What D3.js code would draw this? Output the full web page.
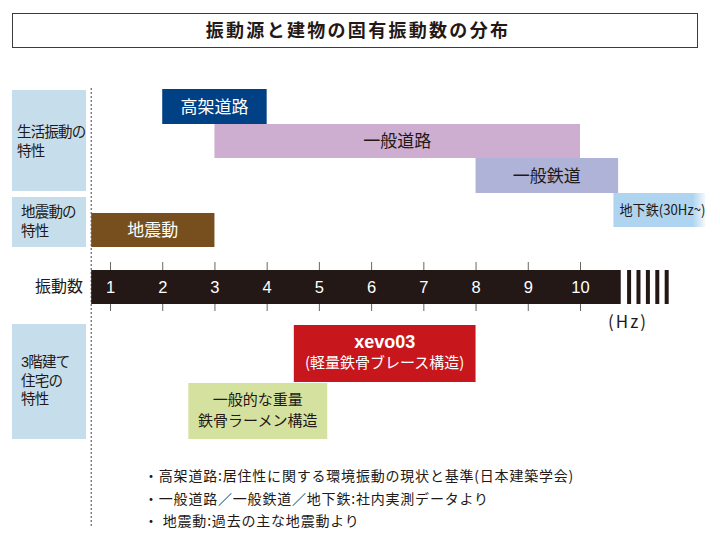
<!DOCTYPE html>
<html>
<head>
<meta charset="utf-8">
<script src="https://cdn.jsdelivr.net/npm/d3@7"></script>
<style>
  body { margin: 0; background: #fff; }
  text { font-family: "Noto Sans CJK JP", sans-serif; }
</style>
</head>
<body>
<div id="chart"></div>
<script>
// values, in Hz
const ticks = [1, 2, 3, 4, 5, 6, 7, 8, 9, 10];
const sourceNames = ['高架道路', '一般道路', '一般鉄道', '地下鉄(30Hz~)', '地震動'];
const sourceFrom = [2, 3, 8, 10.64, 0.64];
const sourceTo = [4, 10, 10.73, 12.4, 3];
const houseNames = [['xevo03', '(軽量鉄骨ブレース構造)'], ['一般的な重量', '鉄骨ラーメン構造']];
const houseFrom = [4.52, 2.5];
const houseTo = [8, 5.16];
const axisFrom = 0.64;
const axisTo = 10.78;
const breakMarks = [10.94, 11.12, 11.3, 11.48, 11.66];
const groupLabels = [['生活振動の', '特性'], ['地震動の', '特性'], ['3階建て', '住宅の', '特性']];
const notes = [
  '・高架道路:居住性に関する環境振動の現状と基準(日本建築学会)',
  '・一般道路／一般鉄道／地下鉄:社内実測データより',
  '・ 地震動:過去の主な地震動より'
];

const W = 720, H = 541;
const dark = '#231815';
const svg = d3.select('#chart').append('svg').attr('width', W).attr('height', H);

const x = d3.scaleLinear().domain([1, 10]).range([110, 580]);

// title
svg.append('rect').attr('x', 12.5).attr('y', 13.5).attr('width', 685).attr('height', 34)
  .attr('fill', 'none').attr('stroke', '#3e3a39').attr('stroke-width', 1);
svg.append('text').attr('x', 358).attr('y', 31).attr('dy', '0.36em')
  .attr('text-anchor', 'middle').attr('fill', dark)
  .style('font-size', '18px').style('font-weight', 700).style('letter-spacing', '2.3px')
  .text('振動源と建物の固有振動数の分布');

// left group boxes
const groupBox = [{ y: 90, h: 101, tx: 17, ty: 132 },
                  { y: 197, h: 50, tx: 21, ty: 212 },
                  { y: 324, h: 115, tx: 21, ty: 362 }];
groupBox.forEach((b, i) => {
  svg.append('rect').attr('x', 12).attr('y', b.y).attr('width', 74).attr('height', b.h).attr('fill', '#c6deeb');
  groupLabels[i].forEach((s, j) => {
    svg.append('text').attr('x', b.tx).attr('y', b.ty + j * 18.5).attr('dy', '0.36em').attr('fill', dark)
      .style('font-family', '"Liberation Sans", "Noto Sans CJK JP", sans-serif')
      .style('font-size', '14.5px').style('letter-spacing', '-0.8px').text(s);
  });
});

// dotted base line
svg.append('line').attr('x1', x(axisFrom)).attr('x2', x(axisFrom)).attr('y1', 88).attr('y2', 526)
  .attr('stroke', '#444').attr('stroke-width', 1).attr('stroke-dasharray', '2,2');

// fade for the subway bar
const grad = svg.append('defs').append('linearGradient').attr('id', 'fade');
grad.append('stop').attr('offset', '0.86').attr('stop-color', '#aed4f0');
grad.append('stop').attr('offset', '1').attr('stop-color', '#aed4f0').attr('stop-opacity', 0.15);

// vibration sources
const srcRow = [{ y: 89, h: 35 }, { y: 124, h: 34 }, { y: 158, h: 35 }, { y: 193, h: 34 }, { y: 213, h: 34 }];
const srcFill = ['#004085', '#cdaed0', '#b0b3d8', 'url(#fade)', '#774f1f'];
const srcText = ['#fff', dark, dark, dark, '#fff'];
sourceNames.forEach((name, i) => {
  const x0 = x(sourceFrom[i]), x1 = x(sourceTo[i]);
  svg.append('rect').attr('x', x0).attr('y', srcRow[i].y).attr('width', x1 - x0).attr('height', srcRow[i].h)
    .attr('fill', srcFill[i]);
  const cy = srcRow[i].y + srcRow[i].h / 2;
  if (i === 3) {
    svg.append('text').attr('x', x0 + 6).attr('y', cy).attr('dy', '0.36em').attr('fill', srcText[i])
      .attr('textLength', 86).attr('lengthAdjust', 'spacingAndGlyphs')
      .style('font-size', '14px').text(name);
  } else {
    svg.append('text').attr('x', (x0 + x1) / 2).attr('y', cy).attr('dy', '0.36em')
      .attr('text-anchor', 'middle').attr('fill', srcText[i])
      .style('font-size', '17px').text(name);
  }
});

// frequency axis
const barTop = 270, barBot = 304;
svg.append('rect').attr('x', x(axisFrom)).attr('y', barTop).attr('width', x(axisTo) - x(axisFrom))
  .attr('height', barBot - barTop).attr('fill', dark);
svg.selectAll('.brk').data(breakMarks).join('rect').attr('class', 'brk')
  .attr('x', d => x(d) - 2).attr('y', barTop).attr('width', 4).attr('height', barBot - barTop)
  .attr('fill', dark);

const tickTop = svg.append('g').attr('transform', `translate(0,${barTop})`)
  .call(d3.axisTop(x).tickValues(ticks).tickSize(8).tickFormat(''));
const tickBot = svg.append('g').attr('transform', `translate(0,${barBot})`)
  .call(d3.axisBottom(x).tickValues(ticks).tickSize(7).tickFormat(''));
[tickTop, tickBot].forEach(g => {
  g.select('.domain').remove();
  g.selectAll('line').attr('stroke', '#666');
});
const tickLab = svg.append('g').attr('transform', `translate(0,${(barTop + barBot) / 2})`)
  .call(d3.axisBottom(x).tickValues(ticks).tickSize(0).tickPadding(0));
tickLab.select('.domain').remove();
tickLab.selectAll('text').attr('y', 0).attr('dy', '0.36em').attr('fill', '#fff')
  .style('font-family', 'Liberation Sans, Arial, sans-serif').style('font-size', '16.5px');

svg.append('text').attr('x', 83).attr('y', 286).attr('dy', '0.36em').attr('text-anchor', 'end')
  .attr('fill', dark).style('font-size', '16px').text('振動数');
svg.append('text').attr('x', 628).attr('y', 322).attr('dy', '0.36em').attr('text-anchor', 'middle')
  .attr('fill', dark).style('font-size', '17px').style('letter-spacing', '2px').text('(Hz)');

// house structures
const houseRow = [{ y: 325, h: 57 }, { y: 383, h: 56 }];
const houseFill = ['#c8161d', '#d5e29f'];
const houseText = ['#fff', dark];
houseNames.forEach((lines, i) => {
  const x0 = x(houseFrom[i]), x1 = x(houseTo[i]);
  svg.append('rect').attr('x', x0).attr('y', houseRow[i].y).attr('width', x1 - x0).attr('height', houseRow[i].h)
    .attr('fill', houseFill[i]);
  const cx = (x0 + x1) / 2;
  lines.forEach((t, j) => {
    const tx = svg.append('text').attr('x', cx).attr('y', houseRow[i].y + 17 + j * 21).attr('dy', '0.36em')
      .attr('text-anchor', 'middle').attr('fill', houseText[i]).text(t);
    if (i === 0 && j === 0) {
      tx.style('font-family', 'Liberation Sans, Arial, sans-serif').style('font-size', '18px').style('font-weight', 700);
    } else {
      tx.style('font-size', '15px');
    }
  });
});

// notes
notes.forEach((t, i) => {
  svg.append('text').attr('x', 144).attr('y', 476 + i * 22.5).attr('dy', '0.36em')
    .attr('fill', dark).style('font-size', '14px').style('letter-spacing', '0.8px').text(t);
});
</script>
</body>
</html>
